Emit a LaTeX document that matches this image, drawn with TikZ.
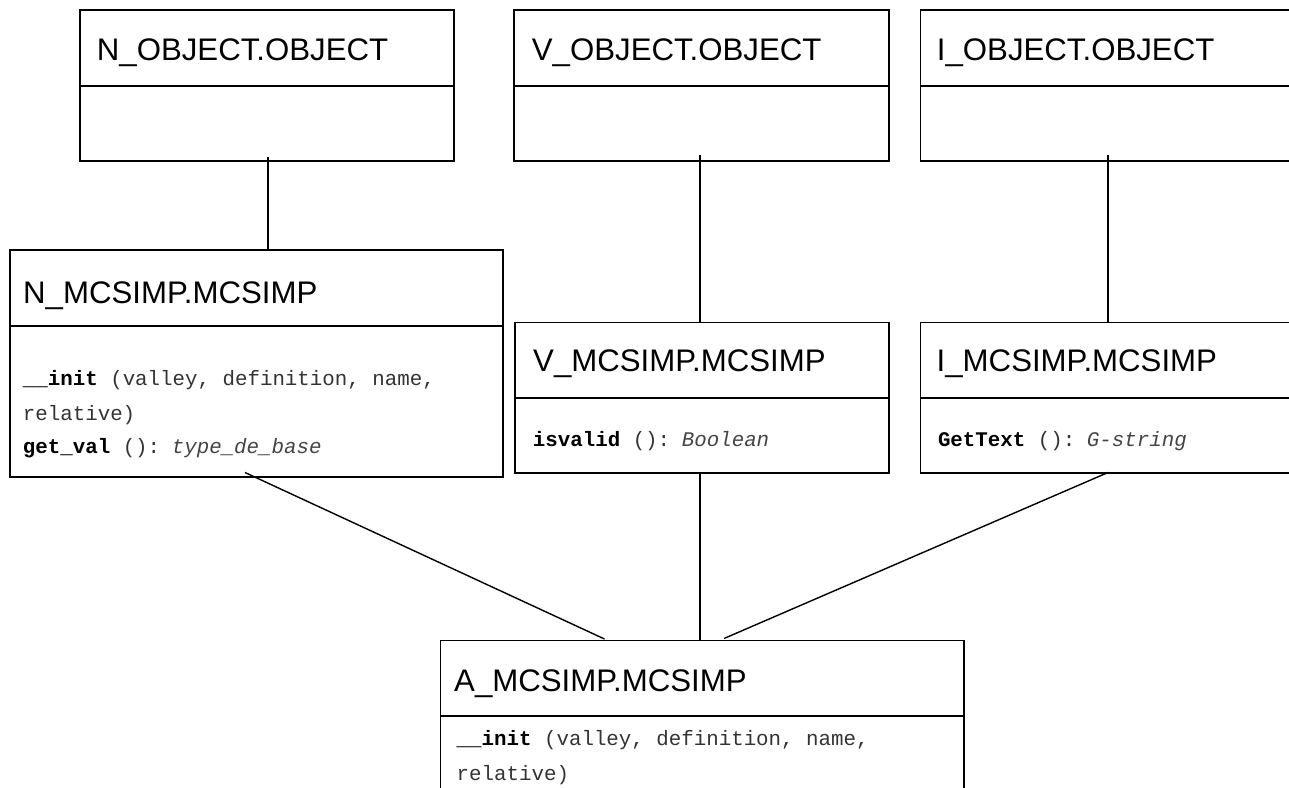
\documentclass[tikz,border=0pt]{standalone}
\usepackage{fontspec}
\setmainfont{Liberation Sans}
\newfontfamily\monof{Liberation Mono}
\usetikzlibrary{calc}
\definecolor{txtgray}{HTML}{333333}
\definecolor{typegray}{HTML}{444444}
\newcommand{\typetxt}[1]{\kern-5pt\textcolor{typegray}{\textit{#1}}}
\begin{document}
\begin{tikzpicture}[x=1pt,y=-1pt,
  classbox/.style={draw, line width=1.7pt, anchor=north west, inner sep=0pt, outer sep=0pt, rectangle},
  headtxt/.style={anchor=base west, inner sep=0pt, font=\fontsize{31.2}{36}\selectfont},
  bodytxt/.style={anchor=base west, inner sep=0pt, font=\monof\fontsize{20.8}{24}\selectfont, text=txtgray},
  divider/.style={line width=1.7pt},
  link/.style={line width=1.4pt}]
\useasboundingbox (0,0) rectangle (1289,787);

% top row boxes
\node[classbox, minimum width=374pt, minimum height=151pt] (nobj) at (80,10) {};
\node[classbox, minimum width=375pt, minimum height=151pt] (vobj) at (514,10) {};
\node[classbox, minimum width=376pt, minimum height=151pt] (iobj) at (920.5,10) {};
\draw[divider] ($(nobj.north west)+(0,76)$) -- ($(nobj.north east)+(0,76)$);
\draw[divider] ($(vobj.north west)+(0,76)$) -- ($(vobj.north east)+(0,76)$);
\draw[divider] ($(iobj.north west)+(0,76)$) -- ($(iobj.north east)+(0,76)$);
\node[headtxt] (nobjT) at (96.7,60) {N\_OBJECT.OBJECT};
\node[headtxt] (vobjT) at (531.7,60) {V\_OBJECT.OBJECT};
\node[headtxt] (iobjT) at (936.7,60) {I\_OBJECT.OBJECT};

% middle row boxes
\node[classbox, minimum width=493pt, minimum height=227pt] (nmc) at (10,250) {};
\node[classbox, minimum width=374pt, minimum height=150.5pt] (vmc) at (515,322.5) {};
\node[classbox, minimum width=376pt, minimum height=150.5pt] (imc) at (920.5,322.5) {};
\draw[divider] ($(nmc.north west)+(0,76)$) -- ($(nmc.north east)+(0,76)$);
\draw[divider] ($(vmc.north west)+(0,75.5)$) -- ($(vmc.north east)+(0,75.5)$);
\draw[divider] ($(imc.north west)+(0,75.5)$) -- ($(imc.north east)+(0,75.5)$);
\node[headtxt] (nmcT) at (23,303) {N\_MCSIMP.MCSIMP};
\node[headtxt] (vmcT) at (533,371.7) {V\_MCSIMP.MCSIMP};
\node[headtxt] (imcT) at (936.5,371.7) {I\_MCSIMP.MCSIMP};

\node[bodytxt] (nb1) at (22.7,385) {\textcolor{black}{\textbf{\_\_init}} (valley, definition, name,};
\node[bodytxt] (nb2) at (22.7,420) {relative)};
\node[bodytxt] (nb3) at (22.7,453) {\textcolor{black}{\textbf{get\_val}} (): \typetxt{type\_de\_base}};
\node[bodytxt] (vb1) at (532.7,446.7) {\textcolor{black}{\textbf{isvalid}} (): \typetxt{Boolean}};
\node[bodytxt] (ib1) at (937.8,446.7) {\textcolor{black}{\textbf{GetText}} (): \typetxt{G-string}};

% bottom box
\node[classbox, minimum width=523.5pt, minimum height=200pt] (amc) at (440.5,640.5) {};
\draw[divider] ($(amc.north west)+(0,75.5)$) -- ($(amc.north east)+(0,75.5)$);
\node[headtxt] (amcT) at (454,691.7) {A\_MCSIMP.MCSIMP};
\node[bodytxt] (ab1) at (456.5,745) {\textcolor{black}{\textbf{\_\_init}} (valley, definition, name,};
\node[bodytxt] (ab2) at (456.5,780) {relative)};

% connector end points
\coordinate (nobjS) at (268,157);
\coordinate (vobjS) at (700,155);
\coordinate (iobjS) at (1108,155);
\coordinate (nmcN) at (268,250);
\coordinate (vmcN) at (700,322.5);
\coordinate (imcN) at (1108,322.5);
\coordinate (nmcS) at (245,472.5);
\coordinate (vmcS) at (700,473);
\coordinate (imcS) at (1108,472.5);
\coordinate (amcNL) at (604.5,639);
\coordinate (amcNM) at (700,640.5);
\coordinate (amcNR) at (724,638.5);

\draw[link] (nobjS) -- (nmcN);
\draw[link] (vobjS) -- (vmcN);
\draw[link] (iobjS) -- (imcN);
\draw[link] (nmcS) -- (amcNL);
\draw[link] (vmcS) -- (amcNM);
\draw[link] (imcS) -- (amcNR);
\end{tikzpicture}
\end{document}
